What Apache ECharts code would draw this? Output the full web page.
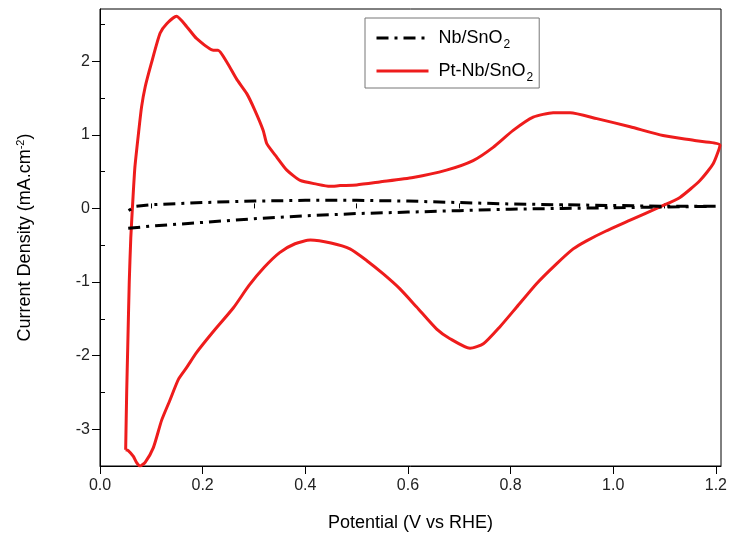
<!DOCTYPE html>
<html>
<head>
<meta charset="utf-8">
<script src="https://cdn.jsdelivr.net/npm/echarts@6/dist/echarts.min.js"></script>
<style>
  html, body { margin: 0; padding: 0; background: #fff; }
  #chart { width: 730px; height: 540px; }
</style>
</head>
<body>
<div id="chart"></div>
<script>
// Cyclic voltammograms: potential (V vs RHE) against current density (mA.cm-2)
const xMajorTicks = [0, 0.2, 0.4, 0.6, 0.8, 1.0, 1.2];
const xMinorTicks = [0.1, 0.3, 0.5, 0.7, 0.9, 1.1];
const yMajorTicks = [-3, -2, -1, 0, 1, 2];
const yMinorTicks = [-3.5, -2.5, -1.5, -0.5, 0.5, 1.5, 2.5];

// Nb/SnO2 loop: cathodic branch left to right, then anodic branch back
const nbSnO2 = [
  [0.055, -0.27], [0.1, -0.24], [0.2, -0.19], [0.3, -0.14], [0.4, -0.10],
  [0.5, -0.07], [0.6, -0.05], [0.7, -0.03], [0.8, -0.01], [0.9, 0.00],
  [1.0, 0.01], [1.1, 0.02], [1.205, 0.03],
  [1.1, 0.03], [1.0, 0.04], [0.9, 0.05], [0.8, 0.06], [0.7, 0.08],
  [0.6, 0.10], [0.5, 0.11], [0.4, 0.11], [0.3, 0.10], [0.2, 0.08],
  [0.1, 0.05], [0.07, 0.03], [0.05, -0.05]
];

// Pt-Nb/SnO2 loop
const ptNbSnO2 = [
  [0.050, -3.28], [0.052, -2.50], [0.054, -1.90], [0.057, -1.00], [0.060, -0.40],
  [0.064, 0.11], [0.068, 0.56], [0.075, 1.02], [0.081, 1.38], [0.088, 1.65],
  [0.100, 1.97], [0.117, 2.38], [0.130, 2.51], [0.149, 2.61], [0.169, 2.47],
  [0.188, 2.31], [0.221, 2.15], [0.230, 2.15], [0.247, 1.99], [0.266, 1.76],
  [0.286, 1.56], [0.302, 1.33], [0.318, 1.06], [0.325, 0.88], [0.344, 0.70],
  [0.364, 0.52], [0.390, 0.38], [0.422, 0.33], [0.448, 0.30], [0.468, 0.31],
  [0.500, 0.32], [0.545, 0.36], [0.610, 0.42], [0.675, 0.52], [0.727, 0.65],
  [0.766, 0.83], [0.805, 1.06], [0.844, 1.24], [0.883, 1.30], [0.916, 1.30],
  [0.968, 1.22], [1.033, 1.11], [1.097, 0.99], [1.162, 0.92], [1.208, 0.86],
  [1.195, 0.61], [1.169, 0.38], [1.130, 0.15], [1.091, 0.02], [1.033, -0.16],
  [0.985, -0.31], [0.948, -0.44], [0.922, -0.55], [0.890, -0.75], [0.851, -1.02],
  [0.812, -1.34], [0.779, -1.61], [0.747, -1.84], [0.721, -1.90], [0.682, -1.77],
  [0.656, -1.64], [0.617, -1.34], [0.584, -1.09], [0.552, -0.89], [0.520, -0.71],
  [0.487, -0.55], [0.450, -0.47], [0.410, -0.43], [0.380, -0.48], [0.350, -0.60],
  [0.320, -0.80], [0.290, -1.05], [0.260, -1.35], [0.220, -1.68], [0.188, -1.96],
  [0.169, -2.16], [0.153, -2.32], [0.136, -2.61], [0.120, -2.88], [0.104, -3.25],
  [0.088, -3.45], [0.078, -3.50], [0.071, -3.45], [0.065, -3.37], [0.055, -3.29],
  [0.050, -3.28]
];

const FONT = '"Liberation Sans", Arial, sans-serif';
const X_MIN = 0, X_MAX = 1.21, Y_MIN = -3.5, Y_MAX = 2.71;

const chart = echarts.init(document.getElementById('chart'), null, { renderer: 'canvas' });

const baseX = {
  type: 'value', min: X_MIN, max: X_MAX, splitLine: { show: false },
  axisLine: { show: true, onZero: false, lineStyle: { color: '#000', width: 1 } }
};
const baseY = {
  type: 'value', min: Y_MIN, max: Y_MAX, splitLine: { show: false },
  axisLine: { show: true, onZero: false, lineStyle: { color: '#000', width: 1 } }
};

chart.setOption({
  animation: false,
  backgroundColor: '#fff',
  grid: {
    left: 100, right: 9, top: 9, bottom: 74,
    show: true, borderColor: '#000', borderWidth: 1, backgroundColor: 'transparent'
  },
  legend: {
    orient: 'vertical',
    left: 365, top: 18,
    padding: [7, 6, 4, 10],
    itemGap: 7,
    itemWidth: 52, itemHeight: 14,
    borderColor: '#777', borderWidth: 1,
    backgroundColor: '#fff',
    itemStyle: { opacity: 0 },
    lineStyle: { width: 3 },
    data: ['Nb/SnO2', 'Pt-Nb/SnO2'],
    formatter: function (name) {
      return '{a|' + name.slice(0, -1) + '}{s|2}';
    },
    textStyle: {
      padding: [0, 0, 0, 5],
      rich: {
        a: { fontFamily: FONT, fontSize: 18, color: '#000', lineHeight: 26 },
        s: { fontFamily: FONT, fontSize: 12, color: '#000', padding: [14, 0, 0, 1], lineHeight: 26 }
      }
    }
  },
  xAxis: [
    Object.assign({}, baseX, {
      name: 'Potential (V vs RHE)',
      nameLocation: 'middle', nameGap: 48,
      nameTextStyle: { fontFamily: FONT, fontSize: 18, color: '#000' },
      axisTick: { show: true, inside: false, length: 8, customValues: xMajorTicks, lineStyle: { color: '#000' } },
      axisLabel: {
        show: true, margin: 12, customValues: xMajorTicks,
        fontFamily: FONT, fontSize: 16, color: '#222',
        formatter: v => v.toFixed(1)
      }
    }),
    Object.assign({}, baseX, {
      axisLine: { show: false },
      axisTick: { show: true, inside: false, length: 5, customValues: xMinorTicks, lineStyle: { color: '#000' } },
      axisLabel: { show: false }
    })
  ],
  yAxis: [
    Object.assign({}, baseY, {
      name: '{a|Current Density (mA.cm}{s|-2}{a|)}',
      nameLocation: 'middle', nameGap: 64,
      nameTextStyle: {
        rich: {
          a: { fontFamily: FONT, fontSize: 18, color: '#000' },
          s: { fontFamily: FONT, fontSize: 11, color: '#000', padding: [0, 0, 10, 0] }
        }
      },
      axisTick: { show: true, inside: false, length: 8, customValues: yMajorTicks, lineStyle: { color: '#000' } },
      axisLabel: {
        show: true, margin: 10, customValues: yMajorTicks,
        fontFamily: FONT, fontSize: 16, color: '#222',
        formatter: v => String(v)
      }
    }),
    Object.assign({}, baseY, {
      axisLine: { show: false },
      axisTick: { show: true, inside: false, length: 5, customValues: yMinorTicks, lineStyle: { color: '#000' } },
      axisLabel: { show: false }
    })
  ],
  series: [
    {
      name: 'Nb/SnO2', type: 'line', data: nbSnO2,
      xAxisIndex: 0, yAxisIndex: 0,
      showSymbol: false, symbol: 'none',
      lineStyle: { color: '#000', width: 3, type: [12, 6, 3, 6] },
      itemStyle: { color: '#000' }, z: 3
    },
    {
      name: 'Pt-Nb/SnO2', type: 'line', data: ptNbSnO2,
      xAxisIndex: 0, yAxisIndex: 0,
      showSymbol: false, symbol: 'none', smooth: 0.2,
      lineStyle: { color: '#ee1c1c', width: 3 },
      itemStyle: { color: '#ee1c1c' }, z: 2
    }
  ]
});
</script>
</body>
</html>
